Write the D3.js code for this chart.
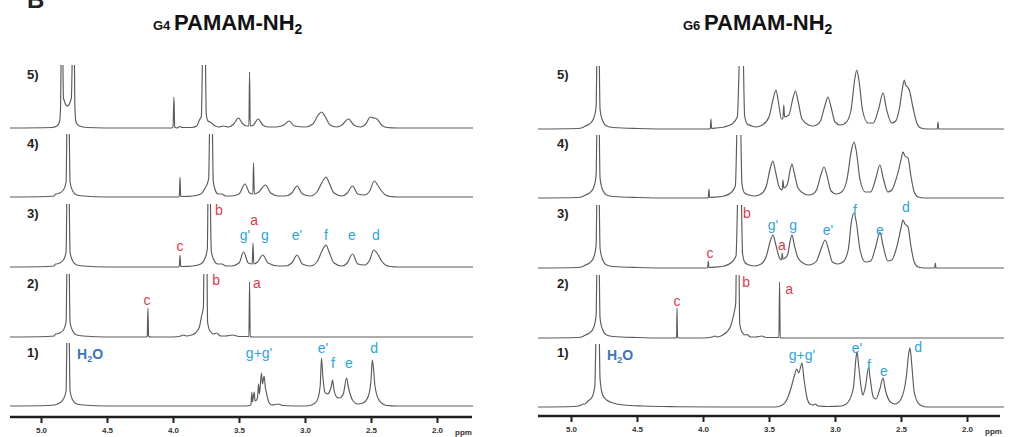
<!DOCTYPE html>
<html><head><meta charset="utf-8">
<script src="https://cdn.jsdelivr.net/npm/d3@7"></script>
<style>
html,body{margin:0;padding:0;background:#fff;}
svg{display:block;font-family:"Liberation Sans",Arial,sans-serif;}
</style></head>
<body>
<svg id="chart" width="1009" height="437"></svg>
<script>
// ---------- DATA ----------
const panelTitles = ["G4", "G6"];
const rowLabels = ["1)", "2)", "3)", "4)", "5)"];
const tickValues = [5.0, 4.5, 4.0, 3.5, 3.0, 2.5, 2.0];
const axisUnit = "ppm";

// spectra: [ppm, intensity (a.u.)]
const g4_s1 = [[5.235,0],[4.95,0.5],[4.90,1],[4.86,3],[4.83,7],[4.81,15],[4.80,100],[4.79,100],[4.78,15],[4.76,6],[4.73,2],[4.68,1],[4.5,0],[3.45,0],[3.41,1],[3.403,14],[3.398,4],[3.385,14],[3.378,5],[3.36,8],[3.352,22],[3.345,12],[3.33,33],[3.322,22],[3.31,30],[3.30,18],[3.29,12],[3.275,4],[3.25,1],[3.20,2],[3.17,0.5],[3.0,0],[2.95,1],[2.91,5],[2.885,20],[2.875,48],[2.865,30],[2.85,14],[2.83,12],[2.80,20],[2.792,26],[2.78,16],[2.76,9],[2.74,8],[2.71,12],[2.685,28],[2.67,18],[2.64,6],[2.60,2],[2.56,3],[2.52,10],[2.50,26],[2.49,46],[2.48,36],[2.47,20],[2.44,6],[2.41,2],[2.38,0.5],[2.3,0],[1.727,0]];
const g4_s2 = [[5.235,0],[4.95,0.5],[4.90,1],[4.89,3],[4.885,3],[4.86,4],[4.83,7],[4.81,15],[4.80,100],[4.79,100],[4.78,15],[4.76,6],[4.73,2],[4.68,1],[4.5,0],[4.2,0],[4.195,1],[4.19,29],[4.185,1],[4.17,0],[4.0,0],[3.94,1],[3.92,2],[3.90,1],[3.86,2],[3.83,4],[3.80,10],[3.785,20],[3.77,30],[3.762,100],[3.745,100],[3.738,15],[3.72,6],[3.69,3],[3.67,4],[3.64,1],[3.60,1],[3.55,2],[3.50,0.5],[3.425,0.5],[3.42,55],[3.415,0.5],[3.40,0],[1.727,0]];
const g4_s3 = [[5.235,0],[4.95,0.5],[4.90,1],[4.89,3],[4.885,3],[4.86,4],[4.83,7],[4.81,15],[4.80,100],[4.79,100],[4.78,15],[4.76,6],[4.73,2],[4.68,1],[4.5,0],[3.96,0],[3.952,1],[3.947,12],[3.942,1],[3.93,0.5],[3.85,1],[3.79,3],[3.76,8],[3.74,18],[3.732,100],[3.722,100],[3.71,16],[3.69,7],[3.66,3],[3.63,3],[3.60,1],[3.56,1],[3.50,4],[3.465,15],[3.43,4],[3.40,3],[3.394,24],[3.388,3],[3.36,5],[3.32,12],[3.28,4],[3.2,1],[3.15,1],[3.10,4],[3.06,12],[3.02,3],[2.96,1],[2.91,5],[2.86,19],[2.84,22],[2.82,16],[2.78,4],[2.72,1],[2.68,4],[2.64,13],[2.60,3],[2.55,2],[2.51,7],[2.48,17],[2.45,13],[2.42,6],[2.39,2],[2.35,0.5],[2.3,0],[1.727,0]];
const g4_s4 = [[5.235,0],[4.95,0.5],[4.90,1],[4.89,3],[4.885,3],[4.86,4],[4.83,7],[4.81,15],[4.80,100],[4.79,100],[4.78,15],[4.76,6],[4.73,2],[4.68,1],[4.5,0],[3.96,0],[3.952,1],[3.947,20],[3.942,1],[3.93,0.5],[3.85,1],[3.79,3],[3.76,8],[3.73,18],[3.718,100],[3.706,100],[3.695,16],[3.68,7],[3.66,3],[3.63,3],[3.60,1],[3.56,1],[3.50,3],[3.455,13],[3.42,4],[3.395,3],[3.39,34],[3.384,3],[3.35,5],[3.30,12],[3.26,4],[3.2,1],[3.15,1],[3.10,4],[3.06,11],[3.02,3],[2.96,1],[2.91,5],[2.86,17],[2.84,20],[2.82,15],[2.78,4],[2.72,1],[2.68,4],[2.64,11],[2.60,3],[2.55,2],[2.51,6],[2.475,16],[2.45,12],[2.42,6],[2.39,2],[2.35,0.5],[2.3,0],[1.727,0]];
const g4_s5 = [[5.235,0],[4.92,0.5],[4.88,2],[4.86,6],[4.852,20],[4.845,100],[4.838,100],[4.83,30],[4.80,22],[4.77,30],[4.758,100],[4.75,100],[4.743,20],[4.735,6],[4.71,2],[4.65,0.5],[4.4,0],[4.01,0],[4.0,1],[3.993,31],[3.987,1],[3.97,0],[3.95,1.5],[3.93,0.5],[3.86,0.5],[3.82,2],[3.80,8],[3.785,12],[3.772,100],[3.758,100],[3.748,14],[3.735,7],[3.72,6],[3.70,4],[3.68,2],[3.65,1],[3.62,2],[3.58,1],[3.54,4],[3.505,10],[3.47,4],[3.44,2],[3.425,2],[3.42,56],[3.415,2],[3.39,3],[3.355,9],[3.32,3],[3.28,1],[3.22,1],[3.16,3],[3.12,7],[3.08,2],[3.0,1],[2.94,4],[2.90,13],[2.875,16],[2.85,12],[2.81,3],[2.76,1],[2.72,3],[2.67,9],[2.63,3],[2.58,1],[2.54,4],[2.505,11],[2.48,10],[2.455,9],[2.42,3],[2.38,0.5],[2.3,0],[1.727,0]];

const g6_s1 = [[5.25,0],[4.98,0.5],[4.93,1.5],[4.91,3],[4.895,3],[4.87,6],[4.84,10],[4.82,20],[4.805,100],[4.79,100],[4.78,28],[4.76,12],[4.73,7],[4.68,4],[4.6,2],[4.45,1],[4.2,0.3],[3.9,0],[3.45,0],[3.40,2],[3.37,6],[3.34,16],[3.31,30],[3.29,38],[3.275,34],[3.25,44],[3.235,28],[3.21,8],[3.19,3],[3.17,2],[3.15,3],[3.13,1],[3.05,0.5],[2.95,1],[2.90,5],[2.86,20],[2.84,50],[2.833,55],[2.82,40],[2.80,18],[2.79,12],[2.77,20],[2.745,40],[2.735,30],[2.71,10],[2.69,8],[2.66,18],[2.636,29],[2.62,18],[2.58,5],[2.545,3],[2.50,8],[2.46,30],[2.44,55],[2.432,59],[2.42,45],[2.40,15],[2.37,4],[2.34,1],[2.3,0],[1.72,0]];
const g6_s2 = [[5.25,0],[4.95,0.5],[4.91,1.5],[4.89,3],[4.86,5],[4.83,10],[4.81,22],[4.80,100],[4.79,100],[4.78,20],[4.76,8],[4.73,3],[4.68,1.5],[4.5,0.5],[4.3,0],[4.205,0],[4.2,1],[4.197,30],[4.193,1],[4.18,0],[4.0,0],[3.93,1],[3.91,2],[3.89,1],[3.85,3],[3.82,6],[3.79,12],[3.765,25],[3.752,35],[3.745,100],[3.73,100],[3.722,15],[3.705,6],[3.68,3],[3.667,3.5],[3.64,1],[3.60,1],[3.555,2],[3.52,0.5],[3.425,0.5],[3.42,56],[3.415,0.5],[3.40,0],[1.72,0]];
const g6_s3 = [[5.25,0],[4.95,0.5],[4.91,1.5],[4.89,3],[4.86,5],[4.83,10],[4.81,22],[4.80,100],[4.79,100],[4.78,20],[4.76,8],[4.73,3],[4.68,1.5],[4.5,0.5],[4.2,0],[3.97,0],[3.965,0.5],[3.96,7],[3.955,0.5],[3.90,1],[3.84,2],[3.79,5],[3.75,12],[3.73,100],[3.715,100],[3.70,14],[3.68,5],[3.65,3],[3.61,2],[3.56,4],[3.52,12],[3.49,27],[3.47,33],[3.45,24],[3.42,10],[3.405,8],[3.40,15],[3.394,9],[3.36,13],[3.34,27],[3.326,33],[3.31,24],[3.28,10],[3.23,4],[3.20,3],[3.17,4],[3.14,7],[3.10,21],[3.075,28],[3.05,19],[3.02,6],[2.98,4],[2.94,6],[2.90,18],[2.875,47],[2.856,55],[2.84,47],[2.81,18],[2.77,6],[2.73,7],[2.69,22],[2.66,36],[2.635,22],[2.60,7],[2.57,8],[2.53,22],[2.50,40],[2.485,48],[2.47,44],[2.447,41],[2.425,22],[2.40,6],[2.37,1],[2.32,0],[2.245,0],[2.24,5],[2.235,0],[1.72,0]];
const g6_s4 = [[5.25,0],[4.95,0.5],[4.91,1.5],[4.89,3],[4.86,5],[4.83,10],[4.81,22],[4.80,100],[4.79,100],[4.78,20],[4.76,8],[4.73,3],[4.68,1.5],[4.5,0.5],[4.2,0],[3.97,0],[3.96,0.5],[3.955,9],[3.95,0.5],[3.90,1],[3.84,2],[3.79,5],[3.755,12],[3.735,100],[3.72,100],[3.705,14],[3.685,5],[3.65,3],[3.61,2],[3.56,4],[3.52,12],[3.49,30],[3.47,37],[3.45,26],[3.42,10],[3.40,8],[3.394,18],[3.388,10],[3.36,14],[3.34,28],[3.326,34],[3.31,26],[3.28,10],[3.23,4],[3.20,3],[3.167,4],[3.14,8],[3.105,24],[3.083,31],[3.06,22],[3.03,7],[2.99,4],[2.95,6],[2.91,18],[2.875,48],[2.856,56],[2.84,48],[2.81,18],[2.77,6],[2.73,6],[2.69,20],[2.66,33],[2.635,20],[2.60,6],[2.57,8],[2.53,22],[2.50,38],[2.485,46],[2.47,42],[2.447,40],[2.425,22],[2.40,6],[2.37,1],[2.32,0],[1.72,0]];
const g6_s5 = [[5.25,0],[4.95,0.5],[4.91,1.5],[4.89,3],[4.86,5],[4.83,10],[4.81,22],[4.80,100],[4.79,100],[4.78,20],[4.76,8],[4.73,3],[4.68,1.5],[4.5,0.5],[4.2,0],[3.96,0],[3.945,0.5],[3.94,10],[3.935,0.5],[3.90,1],[3.84,2],[3.78,5],[3.74,12],[3.715,100],[3.70,100],[3.685,14],[3.665,5],[3.63,3],[3.60,2],[3.55,4],[3.50,12],[3.465,32],[3.447,39],[3.43,28],[3.405,10],[3.395,10],[3.388,24],[3.382,12],[3.35,14],[3.32,30],[3.30,38],[3.28,28],[3.25,10],[3.20,4],[3.17,3],[3.14,4],[3.11,8],[3.075,24],[3.053,32],[3.03,22],[3.0,7],[2.96,4],[2.92,6],[2.88,18],[2.85,50],[2.835,59],[2.82,50],[2.79,18],[2.75,6],[2.71,6],[2.67,20],[2.636,36],[2.61,20],[2.57,6],[2.54,8],[2.51,22],[2.49,40],[2.475,49],[2.465,44],[2.45,42],[2.435,38],[2.41,22],[2.38,6],[2.35,1],[2.30,0],[2.225,0],[2.22,7],[2.215,0],[2.1,0],[1.72,0]];

// peak annotations: [row index (0 = spectrum 1), ppm, level (a.u.), text, kind]
const g4_labels = [
  [2,3.652,57,"b","r"],[2,3.947,21,"c","r"],[2,3.386,47,"a","r"],
  [2,3.455,32,"g'","c"],[2,3.303,32,"g","c"],[2,3.061,32,"e'","c"],[2,2.841,32,"f","c"],[2,2.644,32,"e","c"],[2,2.462,32,"d","c"],
  [1,4.197,37,"c","r"],[1,3.674,57,"b","r"],[1,3.364,54,"a","r"],
  [0,3.348,53,"g+g'","c"],[0,2.864,58,"e'","c"],[0,2.788,43,"f","c"],[0,2.667,43,"e","c"],[0,2.477,58,"d","c"]
];
const g6_labels = [
  [2,3.667,55,"b","r"],[2,3.947,15,"c","r"],[2,3.470,43,"g'","c"],[2,3.318,43,"g","c"],[2,3.402,23,"a","r"],
  [2,3.053,38,"e'","c"],[2,2.848,58,"f","c"],[2,2.659,38,"e","c"],[2,2.462,61,"d","c"],
  [1,4.197,37,"c","r"],[1,3.674,56,"b","r"],[1,3.348,49,"a","r"],
  [0,3.25,52,"g+g'","c"],[0,2.833,59,"e'","c"],[0,2.742,42,"f","c"],[0,2.629,36,"e","c"],[0,2.371,60,"d","c"]
];
// water label: [row, ppm, level]
const waterLabel = [0, 4.727, 52];

// ---------- DRAW ----------
const svg = d3.select("#chart");
const colors = {trace:"#5a5a5a", r:"#e0394f", c:"#2aa6dc", water:"#3a76bf", axis:"#1e1e1e", text:"#222"};

svg.append("text").attr("x",27).attr("y",8).attr("font-size",24).attr("font-weight","bold").attr("fill","#222").text("B");

const panels = [
  {title:panelTitles[0], spectra:[g4_s1,g4_s2,g4_s3,g4_s4,g4_s5], labels:g4_labels,
   range:[41,437], bases:[406,337,267,197,128], axisY:417, axisX:[10,472], labelX:27, labelOff:49, unitX:455},
  {title:panelTitles[1], spectra:[g6_s1,g6_s2,g6_s3,g6_s4,g6_s5], labels:g6_labels,
   range:[571,967], bases:[407,338,268,198,129], axisY:416, axisX:[538,1000], labelX:557, labelOff:50, unitX:985}
];

panels.forEach((p, pi) => {
  const g = svg.append("g");
  const x = d3.scaleLinear().domain([tickValues[0], tickValues[tickValues.length-1]]).range(p.range);

  // title
  const tt = g.append("text").attr("x", x(5) + 112).attr("y", 30).attr("fill","#111").attr("font-weight","bold");
  tt.append("tspan").attr("font-size",13).text(p.title + " ");
  tt.append("tspan").attr("font-size",22).text("PAMAM-NH");
  tt.append("tspan").attr("font-size",14).attr("dy",4).text("2");

  p.spectra.forEach((data, i) => {
    const base = p.bases[i];
    const y = d3.scaleLinear().domain([0,70]).range([base, base-70]);
    const clipId = `clip-${pi}-${i}`;
    g.append("clipPath").attr("id", clipId).append("rect")
      .attr("x", 0).attr("width", 1009).attr("y", base-63).attr("height", 70);
    const line = d3.line().x(d => x(d[0])).y(d => y(d[1])).curve(d3.curveMonotoneX);
    g.append("path").datum(data).attr("d", line).attr("clip-path", `url(#${clipId})`)
      .attr("fill","none").attr("stroke",colors.trace).attr("stroke-width",1.15).attr("stroke-linejoin","round");
    g.append("text").attr("x", p.labelX).attr("y", base - p.labelOff)
      .attr("font-size",13).attr("font-weight","bold").attr("fill",colors.text).text(rowLabels[i]);
  });

  // peak labels
  p.labels.forEach(l => {
    const base = p.bases[l[0]];
    const y = d3.scaleLinear().domain([0,70]).range([base, base-70]);
    g.append("text").attr("x", x(l[1])).attr("y", y(l[2])).attr("dy","0.35em")
      .attr("text-anchor","middle").attr("font-size",14).attr("fill", colors[l[4]]).text(l[3]);
  });
  // water label
  {
    const base = p.bases[waterLabel[0]];
    const y = d3.scaleLinear().domain([0,70]).range([base, base-70]);
    const t = g.append("text").attr("x", x(waterLabel[1])).attr("y", y(waterLabel[2])).attr("dy","0.35em")
      .attr("font-size",14).attr("font-weight","bold").attr("fill",colors.water);
    t.append("tspan").text("H");
    t.append("tspan").attr("font-size",9).attr("dy",3).text("2");
    t.append("tspan").attr("dy",-3).text("O");
  }

  // axis
  const ax = g.append("g").attr("transform",`translate(0,${p.axisY})`)
    .call(d3.axisBottom(x).tickValues(tickValues).tickFormat(d3.format(".1f")).tickSize(6).tickPadding(4));
  ax.select(".domain").remove();
  ax.selectAll(".tick line").attr("stroke",colors.axis).attr("stroke-width",2);
  ax.selectAll(".tick text").attr("font-size",8).attr("font-weight","bold").attr("fill","#333")
    .attr("font-family","Liberation Sans, Arial, sans-serif");
  g.append("line").attr("x1",p.axisX[0]).attr("x2",p.axisX[1]).attr("y1",p.axisY).attr("y2",p.axisY)
    .attr("stroke",colors.axis).attr("stroke-width",2.6);
  g.append("text").attr("x",p.unitX).attr("y",p.axisY+18).attr("font-size",8).attr("font-weight","bold")
    .attr("fill","#333").text(axisUnit);
});
</script>
</body></html>
